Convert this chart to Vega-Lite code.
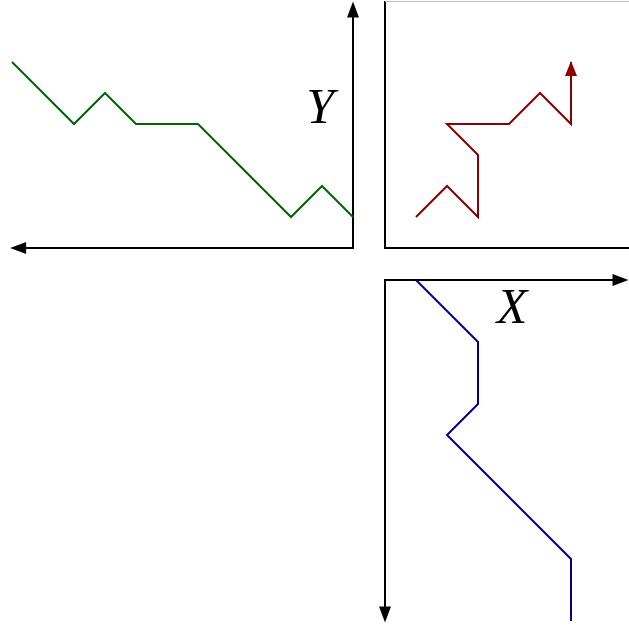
{
  "$schema": "https://vega.github.io/schema/vega-lite/v6.json",
  "padding": 0,
  "background": "white",
  "columns": 2,
  "spacing": 32,
  "align": "each",
  "bounds": "flush",
  "config": {"view": {"stroke": null}},
  "datasets": {
    "walk": [
      {"t": 0, "x": 1, "y": 1},
      {"t": 1, "x": 2, "y": 2},
      {"t": 2, "x": 3, "y": 1},
      {"t": 3, "x": 3, "y": 2},
      {"t": 4, "x": 3, "y": 3},
      {"t": 5, "x": 2, "y": 4},
      {"t": 6, "x": 3, "y": 4},
      {"t": 7, "x": 4, "y": 4},
      {"t": 8, "x": 5, "y": 5},
      {"t": 9, "x": 6, "y": 4},
      {"t": 10, "x": 6, "y": 5},
      {"t": 11, "x": 6, "y": 6}
    ],
    "frames": [
      {"panel": "TL", "kind": "axis", "a": 0, "b": 0, "a2": 10.7, "b2": 0},
      {"panel": "TL", "kind": "axis", "a": 0, "b": 0, "a2": 0, "b2": 7.5},
      {"panel": "TR", "kind": "axis", "a": 0, "b": -0.032, "a2": 0, "b2": 7.968},
      {"panel": "TR", "kind": "axis", "a": 0, "b": 0, "a2": 7.871, "b2": 0},
      {"panel": "TR", "kind": "edge", "a": 0, "b": 7.952, "a2": 7.871, "b2": 7.952},
      {"panel": "BR", "kind": "axis", "a": 0, "b": 0, "a2": 7.5, "b2": 0},
      {"panel": "BR", "kind": "axis", "a": 0, "b": 0, "a2": 0, "b2": 10.7}
    ],
    "arrows": [
      {"panel": "TL", "dir": "left", "a": 11.06, "b": 0},
      {"panel": "TL", "dir": "up", "a": 0, "b": 7.952},
      {"panel": "TR", "dir": "up", "a": 6, "b": 6.03},
      {"panel": "BR", "dir": "right", "a": 7.855, "b": 0},
      {"panel": "BR", "dir": "down", "a": 0, "b": 11.05}
    ],
    "labels": [
      {"panel": "TL", "label": "Y", "a": 1.06, "b": 4.03},
      {"panel": "BR", "label": "X", "a": 4.1, "b": 1.39}
    ]
  },
  "concat": [
    {
      "width": 353,
      "height": 247,
      "layer": [
        {
          "data": {"name": "frames"},
          "transform": [{"filter": "datum.panel == 'TL'"}],
          "mark": {"type": "rule", "color": "black", "strokeWidth": 2, "strokeCap": "square"},
          "encoding": {
            "x": {"field": "a", "type": "quantitative", "scale": {"domain": [0, 11.387], "reverse": true, "nice": false}, "axis": null},
            "x2": {"field": "a2"},
            "y": {"field": "b", "type": "quantitative", "scale": {"domain": [0, 7.968], "nice": false}, "axis": null},
            "y2": {"field": "b2"}
          }
        },
        {
          "data": {"name": "walk"},
          "mark": {"type": "line", "color": "#006400", "strokeWidth": 2},
          "encoding": {
            "x": {"field": "t", "type": "quantitative", "scale": {"domain": [0, 11.387], "reverse": true, "nice": false}, "axis": null},
            "y": {"field": "y", "type": "quantitative", "scale": {"domain": [0, 7.968], "nice": false}, "axis": null},
            "order": {"field": "t", "type": "quantitative"}
          }
        },
        {
          "data": {"name": "arrows"},
          "transform": [{"filter": "datum.panel == 'TL' && datum.dir == 'left'"}],
          "mark": {"type": "point", "shape": "M0,0L-0.75,2L0.75,2Z", "size": 256, "filled": true, "opacity": 1, "color": "black", "angle": 270},
          "encoding": {
            "x": {"field": "a", "type": "quantitative", "scale": {"domain": [0, 11.387], "reverse": true, "nice": false}, "axis": null},
            "y": {"field": "b", "type": "quantitative", "scale": {"domain": [0, 7.968], "nice": false}, "axis": null}
          }
        },
        {
          "data": {"name": "arrows"},
          "transform": [{"filter": "datum.panel == 'TL' && datum.dir == 'up'"}],
          "mark": {"type": "point", "shape": "M0,0L-0.75,2L0.75,2Z", "size": 256, "filled": true, "opacity": 1, "color": "black", "angle": 0},
          "encoding": {
            "x": {"field": "a", "type": "quantitative", "scale": {"domain": [0, 11.387], "reverse": true, "nice": false}, "axis": null},
            "y": {"field": "b", "type": "quantitative", "scale": {"domain": [0, 7.968], "nice": false}, "axis": null}
          }
        },
        {
          "data": {"name": "labels"},
          "transform": [{"filter": "datum.panel == 'TL'"}],
          "mark": {"type": "text", "font": "Liberation Serif", "fontStyle": "italic", "fontSize": 50, "align": "center", "baseline": "alphabetic", "color": "black"},
          "encoding": {
            "x": {"field": "a", "type": "quantitative", "scale": {"domain": [0, 11.387], "reverse": true, "nice": false}, "axis": null},
            "y": {"field": "b", "type": "quantitative", "scale": {"domain": [0, 7.968], "nice": false}, "axis": null},
            "text": {"field": "label"}
          }
        }
      ]
    },
    {
      "width": 244,
      "height": 247,
      "layer": [
        {
          "data": {"name": "frames"},
          "transform": [{"filter": "datum.panel == 'TR' && datum.kind == 'axis'"}],
          "mark": {"type": "rule", "color": "black", "strokeWidth": 2, "strokeCap": "butt"},
          "encoding": {
            "x": {"field": "a", "type": "quantitative", "scale": {"domain": [0, 7.871], "nice": false}, "axis": null},
            "x2": {"field": "a2"},
            "y": {"field": "b", "type": "quantitative", "scale": {"domain": [0, 7.968], "nice": false}, "axis": null},
            "y2": {"field": "b2"}
          }
        },
        {
          "data": {"name": "frames"},
          "transform": [{"filter": "datum.panel == 'TR' && datum.kind == 'edge'"}],
          "mark": {"type": "rule", "color": "#bdbdbd", "strokeWidth": 1, "strokeCap": "butt"},
          "encoding": {
            "x": {"field": "a", "type": "quantitative", "scale": {"domain": [0, 7.871], "nice": false}, "axis": null},
            "x2": {"field": "a2"},
            "y": {"field": "b", "type": "quantitative", "scale": {"domain": [0, 7.968], "nice": false}, "axis": null},
            "y2": {"field": "b2"}
          }
        },
        {
          "data": {"name": "walk"},
          "mark": {"type": "line", "color": "#8b0000", "strokeWidth": 2},
          "encoding": {
            "x": {"field": "x", "type": "quantitative", "scale": {"domain": [0, 7.871], "nice": false}, "axis": null},
            "y": {"field": "y", "type": "quantitative", "scale": {"domain": [0, 7.968], "nice": false}, "axis": null},
            "order": {"field": "t", "type": "quantitative"}
          }
        },
        {
          "data": {"name": "arrows"},
          "transform": [{"filter": "datum.panel == 'TR'"}],
          "mark": {"type": "point", "shape": "M0,0L-0.8,2L0.8,2Z", "size": 225, "filled": true, "opacity": 1, "color": "#8b0000", "angle": 0},
          "encoding": {
            "x": {"field": "a", "type": "quantitative", "scale": {"domain": [0, 7.871], "nice": false}, "axis": null},
            "y": {"field": "b", "type": "quantitative", "scale": {"domain": [0, 7.968], "nice": false}, "axis": null}
          }
        }
      ]
    },
    {
      "width": 353,
      "height": 349,
      "data": {"values": []},
      "mark": "point",
      "encoding": {}
    },
    {
      "width": 244,
      "height": 349,
      "layer": [
        {
          "data": {"name": "frames"},
          "transform": [{"filter": "datum.panel == 'BR'"}],
          "mark": {"type": "rule", "color": "black", "strokeWidth": 2, "strokeCap": "square"},
          "encoding": {
            "x": {"field": "a", "type": "quantitative", "scale": {"domain": [0, 7.871], "nice": false}, "axis": null},
            "x2": {"field": "a2"},
            "y": {"field": "b", "type": "quantitative", "scale": {"domain": [0, 11.258], "reverse": true, "nice": false}, "axis": null},
            "y2": {"field": "b2"}
          }
        },
        {
          "data": {"name": "walk"},
          "mark": {"type": "line", "color": "#00008b", "strokeWidth": 2},
          "encoding": {
            "x": {"field": "x", "type": "quantitative", "scale": {"domain": [0, 7.871], "nice": false}, "axis": null},
            "y": {"field": "t", "type": "quantitative", "scale": {"domain": [0, 11.258], "reverse": true, "nice": false}, "axis": null},
            "order": {"field": "t", "type": "quantitative"}
          }
        },
        {
          "data": {"name": "arrows"},
          "transform": [{"filter": "datum.panel == 'BR' && datum.dir == 'right'"}],
          "mark": {"type": "point", "shape": "M0,0L-0.75,2L0.75,2Z", "size": 256, "filled": true, "opacity": 1, "color": "black", "angle": 90},
          "encoding": {
            "x": {"field": "a", "type": "quantitative", "scale": {"domain": [0, 7.871], "nice": false}, "axis": null},
            "y": {"field": "b", "type": "quantitative", "scale": {"domain": [0, 11.258], "reverse": true, "nice": false}, "axis": null}
          }
        },
        {
          "data": {"name": "arrows"},
          "transform": [{"filter": "datum.panel == 'BR' && datum.dir == 'down'"}],
          "mark": {"type": "point", "shape": "M0,0L-0.75,2L0.75,2Z", "size": 256, "filled": true, "opacity": 1, "color": "black", "angle": 180},
          "encoding": {
            "x": {"field": "a", "type": "quantitative", "scale": {"domain": [0, 7.871], "nice": false}, "axis": null},
            "y": {"field": "b", "type": "quantitative", "scale": {"domain": [0, 11.258], "reverse": true, "nice": false}, "axis": null}
          }
        },
        {
          "data": {"name": "labels"},
          "transform": [{"filter": "datum.panel == 'BR'"}],
          "mark": {"type": "text", "font": "Liberation Serif", "fontStyle": "italic", "fontSize": 50, "align": "center", "baseline": "alphabetic", "color": "black"},
          "encoding": {
            "x": {"field": "a", "type": "quantitative", "scale": {"domain": [0, 7.871], "nice": false}, "axis": null},
            "y": {"field": "b", "type": "quantitative", "scale": {"domain": [0, 11.258], "reverse": true, "nice": false}, "axis": null},
            "text": {"field": "label"}
          }
        }
      ]
    }
  ]
}
